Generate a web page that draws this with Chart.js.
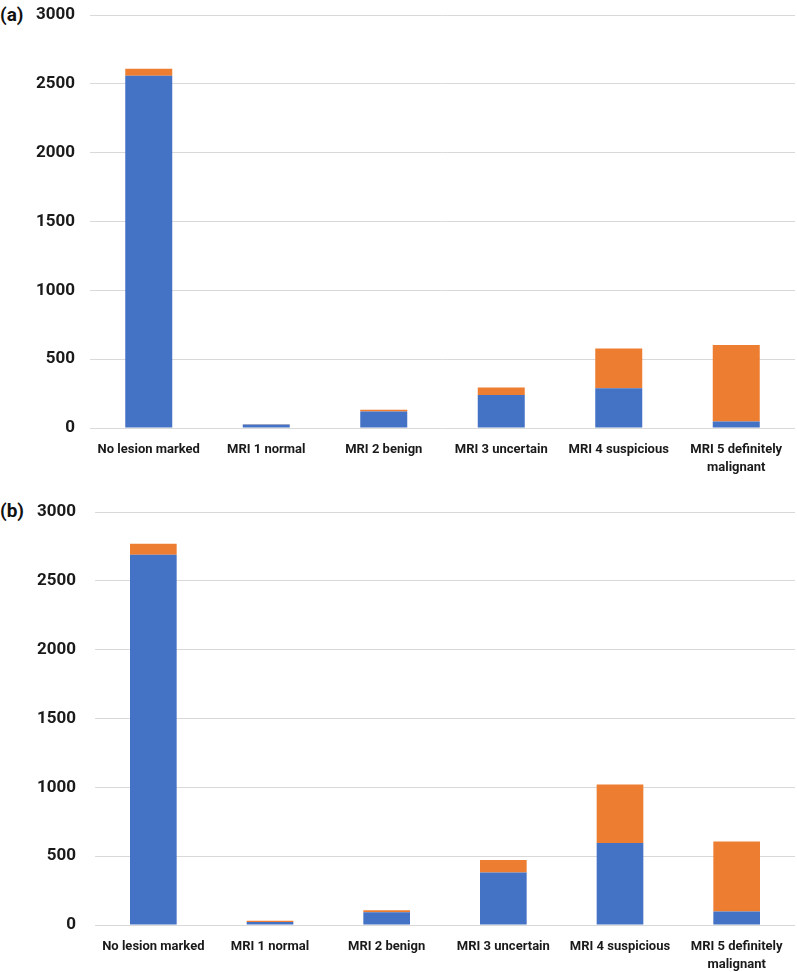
<!DOCTYPE html>
<html>
<head>
<meta charset="utf-8">
<script src="https://cdn.jsdelivr.net/npm/chart.js@4.4.0/dist/chart.umd.min.js"></script>
<style>
  body { margin: 0; background: #fff; width: 797px; height: 972px; position: relative; overflow: hidden; }
  .panel { position: absolute; left: 0; width: 797px; }
  .tag { position: absolute; left: 0; font: bold 19px Roboto, sans-serif; color: #111; }
</style>
</head>
<body>
<div class="tag" style="top:3px;">(a)</div>
<div class="panel" style="top:-10px; height:495px;"><canvas id="chartA"></canvas></div>
<div class="tag" style="top:499px;">(b)</div>
<div class="panel" style="top:483px; height:489px;"><canvas id="chartB"></canvas></div>
<script>
const categories = ['No lesion marked', 'MRI 1 normal', 'MRI 2 benign', 'MRI 3 uncertain', 'MRI 4 suspicious', ['MRI 5 definitely', 'malignant']];
const yTicks = [0, 500, 1000, 1500, 2000, 2500, 3000];

// panel (a)
const blueA = [2560, 25, 120, 240, 288, 48];
const orangeA = [50, 3, 12, 55, 290, 555];

// panel (b)
const blueB = [2690, 22, 93, 382, 596, 98];
const orangeB = [80, 8, 14, 90, 425, 508];

const blue = '#4472C4';
const orange = '#ED7D31';

function makeChart(id, blueVals, orangeVals, axisW, labelPad, xH) {
    const ctx = document.getElementById(id).getContext('2d');
    return new Chart(ctx, {
        type: 'bar',
        data: {
            labels: categories,
            datasets: [{
                data: blueVals,
                backgroundColor: blue,
                borderWidth: 0
            }, {
                data: orangeVals,
                backgroundColor: orange,
                borderWidth: 0
            }]
        },
        options: {
            responsive: true,
            maintainAspectRatio: false,
            animation: false,
            layout: { padding: { top: 5, right: 2, left: 0, bottom: 0 } },
            plugins: { legend: { display: false }, tooltip: { enabled: false } },
            datasets: { bar: { categoryPercentage: 1, barPercentage: 0.4 } },
            scales: {
                x: {
                    stacked: true,
                    grid: { display: false },
                    border: { display: false },
                    ticks: {
                        color: '#1a1a1a',
                        font: { family: 'Roboto', weight: 'bold', size: 13, lineHeight: 1.35 },
                        padding: 5,
                        maxRotation: 0,
                        autoSkip: false
                    },
                    afterFit: s => { s.height = xH; }
                },
                y: {
                    stacked: true,
                    min: 0,
                    max: 3000,
                    afterBuildTicks: s => { s.ticks = yTicks.map(v => ({ value: v })); },
                    grid: { color: '#d9d9d9', lineWidth: 1, drawTicks: false },
                    border: { display: false },
                    ticks: {
                        color: '#1a1a1a',
                        font: { family: 'Roboto', weight: 'bold', size: 17 },
                        padding: labelPad,
                        callback: v => String(v)
                    },
                    afterFit: s => { s.width = axisW; }
                }
            }
        }
    });
}

makeChart('chartA', blueA, orangeA, 90, 15, 57);
makeChart('chartB', blueB, orangeB, 95, 19, 47);
</script>
</body>
</html>
